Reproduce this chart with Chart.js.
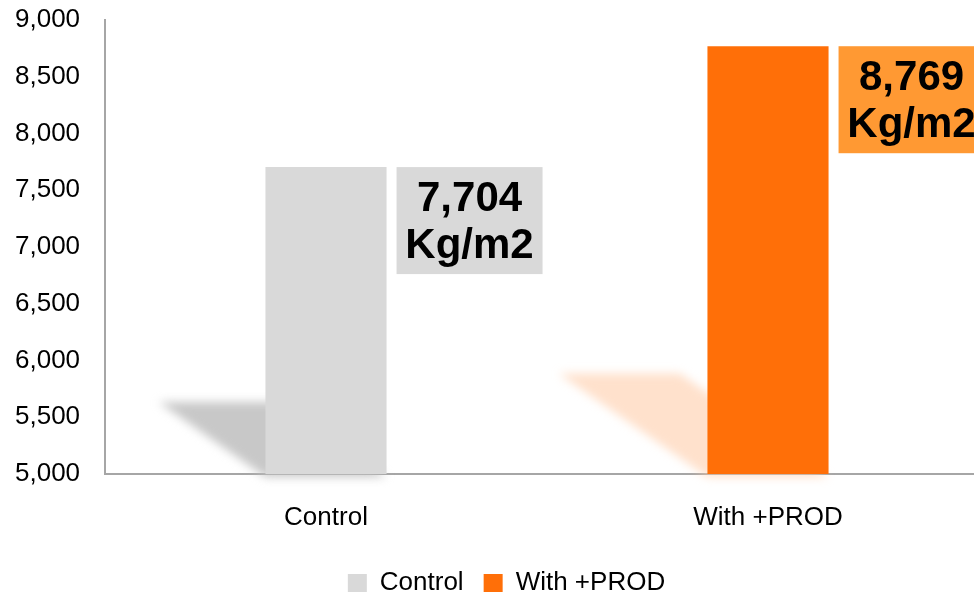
<!DOCTYPE html>
<html>
<head>
<meta charset="utf-8">
<script src="https://cdn.jsdelivr.net/npm/chart.js@4/dist/chart.umd.min.js"></script>
<style>
  html, body { margin: 0; padding: 0; background: #fff; overflow: hidden; }
  #wrap { width: 974px; height: 594px; overflow: hidden; }
  #box { width: 1012px; height: 594px; }
</style>
</head>
<body>
<div id="wrap"><div id="box"><canvas id="c" width="1012" height="594"></canvas></div></div>
<script>
// Yield per treatment
const categories = ['Control', 'With +PROD'];
const seriesNames = ['Control', 'With +PROD'];
const controlValues = [7704, null];
const prodValues = [null, 8769];
const valueUnit = 'Kg/m2';
const yTicks = [5000, 5500, 6000, 6500, 7000, 7500, 8000, 8500, 9000];

const barColors = ['#d9d9d9', '#ff6f08'];
const labelBoxColors = ['#d9d9d9', '#ff9933'];
const shadowColors = ['rgba(190,190,190,0.85)', 'rgba(255,205,170,0.6)'];

const FONT = '"Liberation Sans", Arial, sans-serif';

// Skewed ground shadow behind each bar
const shadowPlugin = {
  id: 'barShadow',
  beforeDatasetsDraw(chart) {
    const ctx = chart.ctx;
    const yScale = chart.scales.y;
    const base = yScale.getPixelForValue(yScale.min);
    chart.data.datasets.forEach((ds, di) => {
      const meta = chart.getDatasetMeta(di);
      meta.data.forEach((bar, i) => {
        const v = ds.data[i];
        if (v == null) return;
        const top = yScale.getPixelForValue(v);
        const half = bar.width / 2;
        const left = bar.x - half;
        const right = bar.x + half;
        const h = (base - top) * 0.235;
        const dx = h * 1.48;
        ctx.save();
        ctx.filter = 'blur(5px)';
        ctx.fillStyle = shadowColors[di];
        ctx.beginPath();
        ctx.moveTo(left, base + 3);
        ctx.lineTo(right, base + 3);
        ctx.lineTo(right - dx, base - h);
        ctx.lineTo(left - dx, base - h);
        ctx.closePath();
        ctx.fill();
        ctx.restore();
      });
    });
  }
};

// Value boxes to the right of each bar
const valueBoxPlugin = {
  id: 'valueBox',
  afterDatasetsDraw(chart) {
    const ctx = chart.ctx;
    const yScale = chart.scales.y;
    chart.data.datasets.forEach((ds, di) => {
      const meta = chart.getDatasetMeta(di);
      meta.data.forEach((bar, i) => {
        const v = ds.data[i];
        if (v == null) return;
        const x = bar.x + bar.width / 2 + 10;
        const y = yScale.getPixelForValue(v);
        const w = 146, h = 107;
        ctx.save();
        ctx.fillStyle = labelBoxColors[di];
        ctx.fillRect(x, y, w, h);
        ctx.fillStyle = '#000';
        ctx.font = 'bold 42px ' + FONT;
        ctx.textAlign = 'center';
        ctx.textBaseline = 'middle';
        ctx.fillText(v.toLocaleString('en-US'), x + w / 2, y + 32);
        ctx.fillText(valueUnit, x + w / 2, y + 79);
        ctx.restore();
      });
    });
  }
};

new Chart(document.getElementById('c'), {
  type: 'bar',
  data: {
    labels: categories,
    datasets: [
      { label: seriesNames[0], data: controlValues, backgroundColor: barColors[0], grouped: false },
      { label: seriesNames[1], data: prodValues, backgroundColor: barColors[1], grouped: false }
    ]
  },
  options: {
    responsive: false,
    animation: false,
    events: [],
    barPercentage: 0.274,
    categoryPercentage: 1,
    layout: { padding: { top: 20, right: 23, left: 24, bottom: -12 } },
    plugins: {
      legend: {
        position: 'bottom',
        labels: {
          font: { family: FONT, size: 26 },
          color: '#000',
          boxWidth: 19,
          boxHeight: 18,
          padding: 20,
          useBorderRadius: false
        }
      },
      tooltip: { enabled: false }
    },
    scales: {
      x: {
        grid: { display: false, drawTicks: false },
        border: { color: '#a6a6a6', width: 2 },
        ticks: { font: { family: FONT, size: 26 }, color: '#000', padding: 28 },
        afterFit(scale) { scale.height = 76; }
      },
      y: {
        min: 5000,
        max: 9000,
        afterBuildTicks(scale) { scale.ticks = yTicks.map(v => ({ value: v })); },
        grid: { display: false, drawTicks: false },
        border: { color: '#a6a6a6', width: 2 },
        ticks: {
          font: { family: FONT, size: 26 },
          color: '#000',
          mirror: true,
          crossAlign: 'near',
          padding: -90,
          callback: v => v.toLocaleString('en-US')
        },
        afterFit(scale) {
          scale.width = 81;
          scale.paddingTop = 0;
          scale.paddingBottom = 0;
        }
      }
    }
  },
  plugins: [shadowPlugin, valueBoxPlugin]
});
</script>
</body>
</html>
